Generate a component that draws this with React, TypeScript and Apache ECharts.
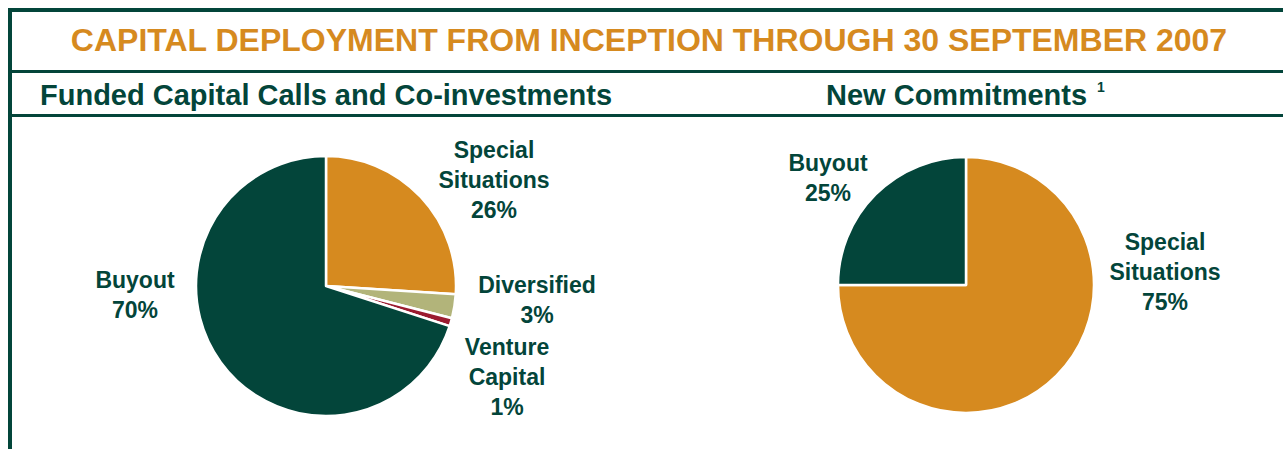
import React, { useEffect, useRef } from "react";
import * as echarts from "echarts";

const mainTitle = "CAPITAL DEPLOYMENT FROM INCEPTION THROUGH 30 SEPTEMBER 2007";
const leftTitle = "Funded Capital Calls and Co-investments";
const rightTitle = "New Commitments";
const rightNote = "1";

const fundedNames = ["Special\nSituations", "Diversified", "Venture\nCapital", "Buyout"];
const fundedValues = [26, 3, 1, 70];
const commitNames = ["Special\nSituations", "Buyout"];
const commitValues = [75, 25];

const GREEN = "#03453A";
const ORANGE = "#D68A1F";
const KHAKI = "#B2B47A";
const RED = "#9B1B30";

const fundedColors = [ORANGE, KHAKI, RED, GREEN];
const commitColors = [ORANGE, GREEN];

// label anchor positions (layout only)
const fundedLabelPos = [
  [494, 180],
  [537, 300],
  [507, 377],
  [135, 295],
];
const commitLabelPos = [
  [1165, 272],
  [828, 178],
];

export default function App() {
  const ref = useRef<HTMLDivElement>(null);
  useEffect(() => {
    if (!ref.current) return;
    const chart = echarts.init(ref.current, null, { renderer: "svg" });
    const labelStyle = {
      show: true,
      formatter: "{b}\n{d}%",
      color: GREEN,
      fontFamily: "Liberation Sans, Arial, sans-serif",
      fontWeight: "bold",
      fontSize: 23,
      lineHeight: 30,
      align: "center",
    };
    chart.setOption({
      animation: false,
      backgroundColor: "#ffffff",
      title: [
        {
          text: mainTitle,
          left: 649,
          top: 24,
          textAlign: "center",
          padding: 0,
          textStyle: {
            color: ORANGE,
            fontFamily: "Liberation Sans, Arial, sans-serif",
            fontWeight: "bold",
            fontSize: 32,
          },
        },
        {
          text: leftTitle,
          left: 40,
          top: 80,
          padding: 0,
          textStyle: {
            color: GREEN,
            fontFamily: "Liberation Sans, Arial, sans-serif",
            fontWeight: "bold",
            fontSize: 29,
          },
        },
        {
          text: rightTitle + " {sup|" + rightNote + "}",
          left: 826,
          top: 80,
          padding: 0,
          textStyle: {
            color: GREEN,
            fontFamily: "Liberation Sans, Arial, sans-serif",
            fontWeight: "bold",
            fontSize: 29,
            rich: {
              sup: {
                color: GREEN,
                fontFamily: "Liberation Sans, Arial, sans-serif",
                fontWeight: "bold",
                fontSize: 14,
                verticalAlign: "top",
                padding: [0, 0, 14, 2],
              },
            },
          },
        },
      ],
      graphic: [
        { type: "rect", shape: { x: 8, y: 8, width: 1275, height: 4 }, style: { fill: GREEN } },
        { type: "rect", shape: { x: 8, y: 8, width: 4, height: 441 }, style: { fill: GREEN } },
        { type: "rect", shape: { x: 8, y: 70, width: 1275, height: 3 }, style: { fill: GREEN } },
        { type: "rect", shape: { x: 8, y: 114, width: 1275, height: 3 }, style: { fill: GREEN } },
      ],
      series: [
        {
          type: "pie",
          center: [326, 286],
          radius: [0, 130],
          startAngle: 90,
          clockwise: true,
          label: labelStyle,
          labelLine: { show: false },
          labelLayout: (p: any) => ({
            x: fundedLabelPos[p.dataIndex][0],
            y: fundedLabelPos[p.dataIndex][1],
            align: "center",
            verticalAlign: "middle",
          }),
          itemStyle: { borderColor: "#ffffff", borderWidth: 2.5 },
          emphasis: { disabled: true },
          data: fundedNames.map((n, i) => ({
            name: n,
            value: fundedValues[i],
            itemStyle: { color: fundedColors[i] },
          })),
        },
        {
          type: "pie",
          center: [966, 285],
          radius: [0, 128],
          startAngle: 90,
          clockwise: true,
          label: labelStyle,
          labelLine: { show: false },
          labelLayout: (p: any) => ({
            x: commitLabelPos[p.dataIndex][0],
            y: commitLabelPos[p.dataIndex][1],
            align: "center",
            verticalAlign: "middle",
          }),
          itemStyle: { borderColor: "#ffffff", borderWidth: 2.5 },
          emphasis: { disabled: true },
          data: commitNames.map((n, i) => ({
            name: n,
            value: commitValues[i],
            itemStyle: { color: commitColors[i] },
          })),
        },
      ],
    });
    return () => chart.dispose();
  }, []);
  return (
    <div
      ref={ref}
      style={{ position: "fixed", left: 0, top: 0, width: 1283, height: 449 }}
    />
  );
}
